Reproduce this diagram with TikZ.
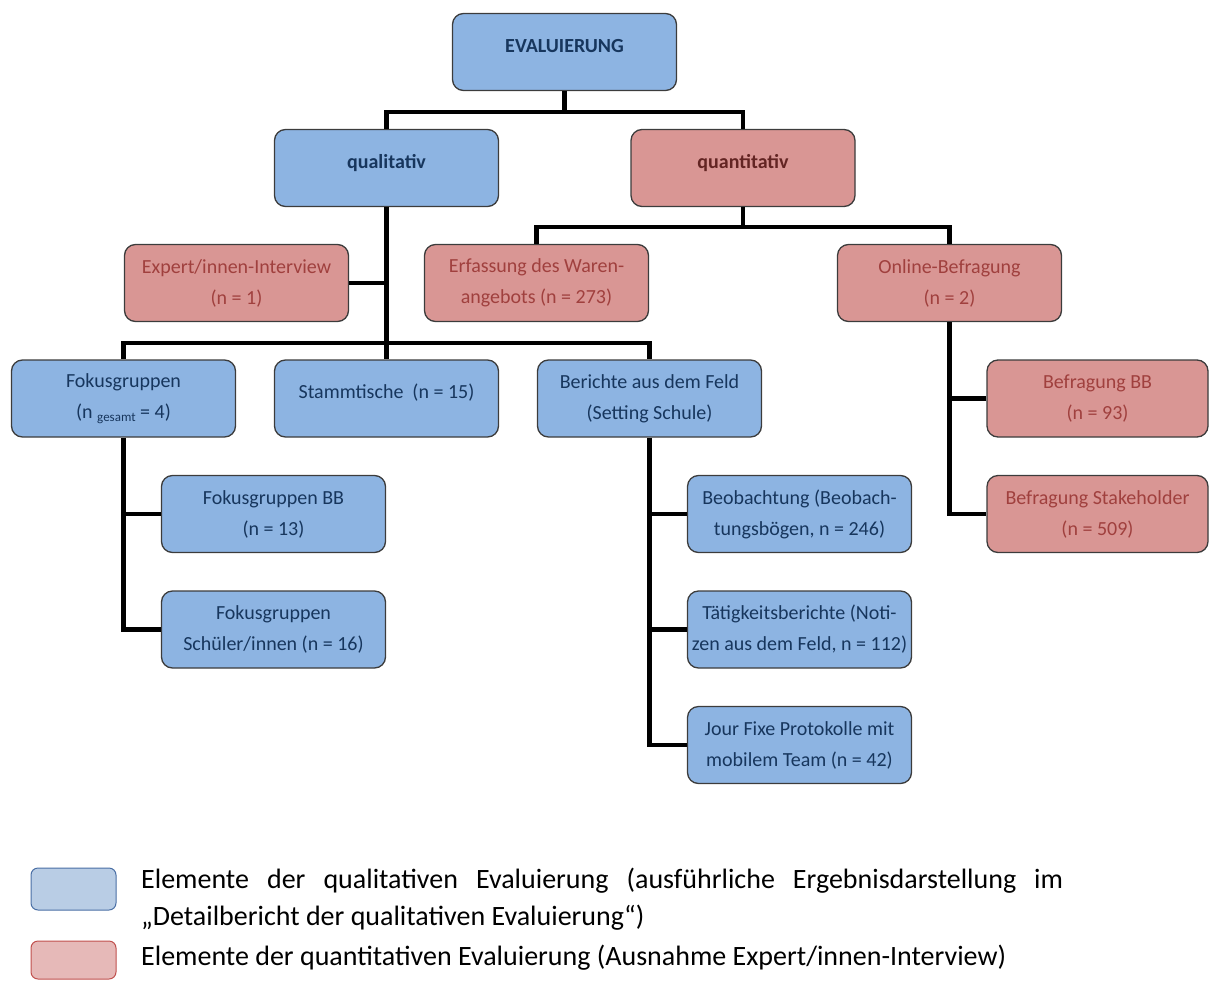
\documentclass[tikz,border=0pt]{standalone}
\usepackage{fontspec}
\setmainfont{Carlito}
\usetikzlibrary{positioning,calc}
\definecolor{qualfill}{RGB}{141,180,226}
\definecolor{quanfill}{RGB}{217,150,148}
\definecolor{qualtext}{RGB}{23,54,93}
\definecolor{quantext}{RGB}{160,64,62}
\definecolor{quandark}{RGB}{99,37,35}
\definecolor{boxline}{RGB}{60,60,60}
\definecolor{legqfill}{RGB}{185,205,229}
\definecolor{legqline}{RGB}{74,111,165}
\definecolor{legnfill}{RGB}{230,185,184}
\definecolor{legnline}{RGB}{192,80,77}

\begin{document}
\begin{tikzpicture}[x=1pt,y=-1pt,
  box/.style={draw=boxline,line width=1.3pt,rounded corners=11pt,minimum width=224pt,
    minimum height=77pt,inner xsep=2pt,align=center,font=\fontsize{20}{31}\selectfont},
  qualbox/.style={box,fill=qualfill,text=qualtext},
  quanbox/.style={box,fill=quanfill,text=quantext},
  oneline/.style={text height=11pt,text depth=11pt},
  bold/.style={font=\fontsize{20}{31}\selectfont\bfseries},
  legbox/.style={line width=1pt,rounded corners=7pt,minimum width=85pt},
  legtext/.style={anchor=base west,inner sep=0pt,font=\fontsize{28}{37}\selectfont},
  conn/.style={line width=4.2pt}]
\useasboundingbox (0,0) rectangle (1210,980);

% top levels
\node[qualbox,oneline,bold] (eval) at (564.5,52) {EVALUIERUNG};
\node[qualbox,oneline,bold] (qual) at (386.5,168) {qualitativ};
\node[quanbox,oneline,bold,text=quandark] (quant) at (743,168) {quantitativ};

% second row
\node[quanbox] (expert) at (236.5,283) {Expert/innen-Interview\\(n = 1)};
\node[quanbox] (erfass) at (536.5,283) {Erfassung des Waren-\\angebots (n = 273)};
\node[quanbox] (online) at (949.5,283) {Online-Befragung\\(n = 2)};

% third row
\node[qualbox] (fokus) at (123.5,398.5)
  {Fokusgruppen\\(n {\fontsize{13}{13}\selectfont\raisebox{-3pt}{gesamt}} = 4)};
\node[qualbox,oneline] (stamm) at (386.5,398.5) {Stammtische~ (n = 15)};
\node[qualbox] (bericht) at (649.5,398.5) {Berichte aus dem Feld\\(Setting Schule)};
\node[quanbox,minimum width=221pt] (befbb) at (1097.5,398.5) {Befragung BB\\(n = 93)};

% leaves
\node[qualbox] (fokbb) at (273.5,514) {Fokusgruppen BB\\(n = 13)};
\node[qualbox] (foksch) at (273.5,629.5) {Fokusgruppen\\Schüler/innen (n = 16)};
\node[qualbox] (beob) at (799.5,514) {Beobachtung (Beobach-\\tungsbögen, n = 246)};
\node[qualbox] (taet) at (799.5,629.5) {Tätigkeitsberichte (Noti-\\zen aus dem Feld, n = 112)};
\node[qualbox] (jour) at (799.5,745) {Jour Fixe Protokolle mit\\mobilem Team (n = 42)};
\node[quanbox,minimum width=221pt] (befstake) at (1097.5,514) {Befragung Stakeholder\\(n = 509)};

% connectors
\coordinate (j1) at (564.5,112);
\coordinate (j2) at (743,227);
\coordinate (j3) at (386.5,343);
\draw[conn] (eval.south) -- (j1);
\draw[conn] (qual.north) |- (j1) -| (quant.north);
\draw[conn] (quant.south) -- (j2);
\draw[conn] (erfass.north) |- (j2) -| (online.north);
\draw[conn] (qual.south) -- (stamm.north);
\draw[conn] (expert.east) -- (expert.east -| qual.south);
\draw[conn] (fokus.north) |- (j3) -| (bericht.north);
\draw[conn] (fokus.south) |- (foksch.west);
\draw[conn] (fokbb.west) -- (fokbb.west -| fokus.south);
\draw[conn] (bericht.south) |- (jour.west);
\draw[conn] (beob.west) -- (beob.west -| bericht.south);
\draw[conn] (taet.west) -- (taet.west -| bericht.south);
\draw[conn] (online.south) |- (befstake.west);
\draw[conn] (befbb.west) -- (befbb.west -| online.south);

% legend
\node[legbox,draw=legqline,fill=legqfill,minimum height=42pt] (legq) at (73.5,889) {};
\node[legbox,draw=legnline,fill=legnfill,minimum height=38pt] (legn) at (73.5,960) {};
\node[legtext,text width=922pt,align=justify] (legqtxt) at (141,888)
  {Elemente der qualitativen Evaluierung (ausführliche Ergebnisdarstellung im\linebreak
   „Detailbericht der qualitativen Evaluierung“)};
\node[legtext] (legntxt) at (141,965)
  {Elemente der quantitativen Evaluierung (Ausnahme Expert/innen-Interview)};
\end{tikzpicture}
\end{document}
